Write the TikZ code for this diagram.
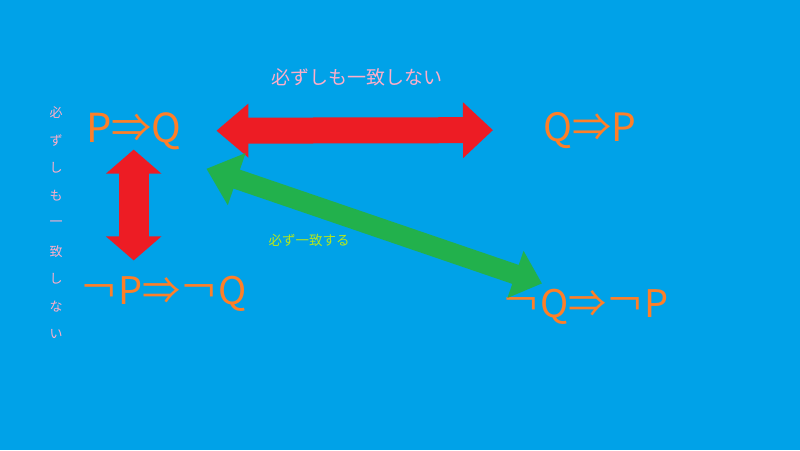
\documentclass[tikz,border=0pt]{standalone}
\usepackage{fontspec}
\setmainfont{Noto Sans CJK JP}
\usetikzlibrary{arrows.meta}
\definecolor{sky}{HTML}{00A2E8}
\definecolor{paintred}{HTML}{ED1C24}
\definecolor{paintgreen}{HTML}{22B14C}
\definecolor{paintorange}{HTML}{FF7F27}
\definecolor{paintpink}{HTML}{FFAEC9}
\definecolor{paintlime}{HTML}{B5E61D}
\tikzset{
  logic/.style={text=paintorange, inner sep=0pt, anchor=base west},
  redarrow/.style={draw=paintred, line width=26pt, line join=miter,
    {Triangle[length=32pt,width=52pt]}-{Triangle[length=30pt,width=54pt]}},
  greenarrow/.style={draw=paintgreen, line width=20pt, line join=miter,
    {Triangle[length=32pt,width=53pt]}-{Triangle[length=28pt,width=48pt]}}
}

\begin{document}
\begin{tikzpicture}[x=1pt,y=-1pt]
        % background
        \fill[sky] (0,0) rectangle (800,450);

        % statements
        \node[logic, font=\fontsize{40}{40}\selectfont] (pq) at (86,142) {P⇒Q};
        \node[logic, font=\fontsize{39}{39}\selectfont] (qp) at (543,141) {Q⇒P};
        \node[logic, font=\fontsize{38}{38}\selectfont] (npq) at (80,304) {￢P⇒￢Q};
        \node[logic, font=\fontsize{38}{38}\selectfont] (nqp) at (502,317) {￢Q⇒￢P};

        % labels
        \node[text=paintpink, font=\fontsize{19}{19}\selectfont] (top) at (357,77) {必ずしも一致しない};
        \node[text=paintlime, font=\fontsize{13.5}{13.5}\selectfont] (mid) at (309,240) {必ず一致する};
        \foreach \c [count=\i] in {必,ず,し,も,一,致,し,な,い}
            \node[text=paintpink, font=\fontsize{13}{13}\selectfont] (v\i) at (56,85+27.7*\i) {\c};

        % arrows
        \draw[redarrow, shorten <=35pt, shorten >=50pt] (pq.east) -- (qp.west);
        \draw[redarrow, line width=30pt, {Triangle[length=24pt,width=54pt]}-{Triangle[length=24pt,width=54pt]},
            shorten <=0pt, shorten >=15pt] (pq.south) -- (pq.south |- npq.north);
        \draw[greenarrow] ([shift={(25,38)}]pq.east) -- ([shift={(40,-5)}]nqp.north west);
\end{tikzpicture}
\end{document}
